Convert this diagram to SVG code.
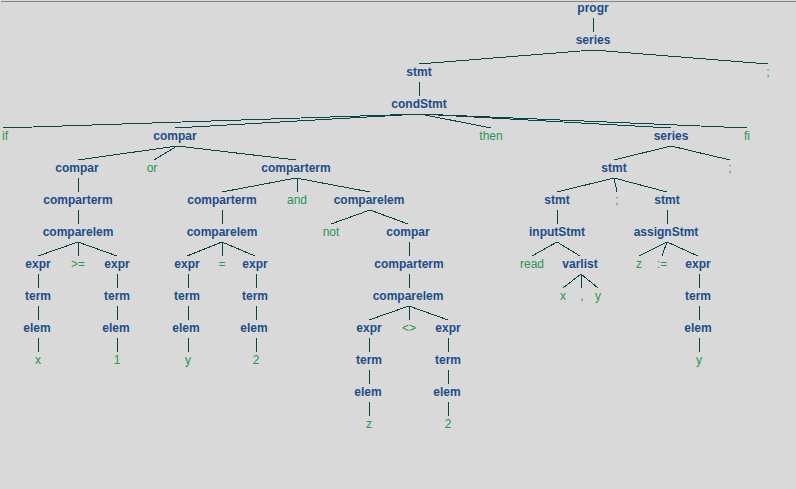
<svg xmlns="http://www.w3.org/2000/svg" width="796" height="489" viewBox="0 0 796 489">
<style>
text{font-family:"Liberation Sans",Arial,sans-serif;font-size:12px;text-anchor:middle}
.nt{font-weight:bold;fill:#1d4c88}
.t{fill:#2b9553}
#edges line{stroke:#0b4242;stroke-width:1}
</style>
<rect width="796" height="489" fill="#d9d9d9"/>
<line x1="1" y1="1.5" x2="796" y2="1.5" stroke="#858585" stroke-width="1"/>
<g id="edges" shape-rendering="crispEdges">
<line x1="593.5" y1="18" x2="593.5" y2="32"/>
<line x1="593" y1="50" x2="419" y2="64"/><line x1="593" y1="50" x2="768" y2="64"/>
<line x1="419.5" y1="82" x2="419.5" y2="96"/>
<line x1="420" y1="114" x2="3" y2="128"/><line x1="420" y1="114" x2="175" y2="128"/><line x1="420" y1="114" x2="491" y2="128"/><line x1="420" y1="114" x2="671" y2="128"/><line x1="420" y1="114" x2="747" y2="128"/>
<line x1="177" y1="146" x2="78" y2="160"/><line x1="177" y1="146" x2="154" y2="160"/><line x1="177" y1="146" x2="296" y2="160"/>
<line x1="671" y1="146" x2="614" y2="160"/><line x1="671" y1="146" x2="730" y2="160"/>
<line x1="78.5" y1="178" x2="78.5" y2="192"/>
<line x1="296" y1="178" x2="222" y2="192"/><line x1="297.5" y1="178" x2="297.5" y2="192"/><line x1="296" y1="178" x2="370" y2="192"/>
<line x1="614" y1="178" x2="557" y2="192"/><line x1="614" y1="178" x2="617" y2="192"/><line x1="614" y1="178" x2="667" y2="192"/>
<line x1="78.5" y1="210" x2="78.5" y2="224"/>
<line x1="222.5" y1="210" x2="222.5" y2="224"/>
<line x1="370" y1="210" x2="331" y2="224"/><line x1="370" y1="210" x2="408" y2="224"/>
<line x1="557.5" y1="210" x2="557.5" y2="224"/>
<line x1="667.5" y1="210" x2="667.5" y2="224"/>
<line x1="78" y1="242" x2="38" y2="256"/><line x1="78.5" y1="242" x2="78.5" y2="256"/><line x1="78" y1="242" x2="117" y2="256"/>
<line x1="222" y1="242" x2="187" y2="256"/><line x1="222.5" y1="242" x2="222.5" y2="256"/><line x1="222" y1="242" x2="255" y2="256"/>
<line x1="409.5" y1="242" x2="409.5" y2="256"/>
<line x1="557" y1="242" x2="532" y2="256"/><line x1="557" y1="242" x2="580" y2="256"/>
<line x1="667" y1="242" x2="639" y2="256"/><line x1="667" y1="242" x2="662" y2="256"/><line x1="667" y1="242" x2="698" y2="256"/>
<line x1="38.5" y1="274" x2="38.5" y2="288"/><line x1="117.5" y1="274" x2="117.5" y2="288"/><line x1="188.5" y1="274" x2="188.5" y2="288"/><line x1="256.5" y1="274" x2="256.5" y2="288"/>
<line x1="409.5" y1="274" x2="409.5" y2="288"/>
<line x1="581" y1="274" x2="563" y2="288"/><line x1="581.5" y1="274" x2="581.5" y2="288"/><line x1="581" y1="274" x2="598" y2="288"/>
<line x1="699.5" y1="274" x2="699.5" y2="288"/>
<line x1="38.5" y1="306" x2="38.5" y2="320"/><line x1="117.5" y1="306" x2="117.5" y2="320"/><line x1="188.5" y1="306" x2="188.5" y2="320"/><line x1="256.5" y1="306" x2="256.5" y2="320"/>
<line x1="409" y1="306" x2="369" y2="320"/><line x1="409.5" y1="306" x2="409.5" y2="320"/><line x1="409" y1="306" x2="448" y2="320"/>
<line x1="699.5" y1="306" x2="699.5" y2="320"/>
<line x1="38.5" y1="338" x2="38.5" y2="352"/><line x1="117.5" y1="338" x2="117.5" y2="352"/><line x1="188.5" y1="338" x2="188.5" y2="352"/><line x1="256.5" y1="338" x2="256.5" y2="352"/>
<line x1="369.5" y1="338" x2="369.5" y2="352"/><line x1="448.5" y1="338" x2="448.5" y2="352"/>
<line x1="699.5" y1="338" x2="699.5" y2="352"/>
<line x1="369.5" y1="370" x2="369.5" y2="384"/><line x1="448.5" y1="370" x2="448.5" y2="384"/>
<line x1="369.5" y1="402" x2="369.5" y2="416"/><line x1="448.5" y1="402" x2="448.5" y2="416"/>
</g>
<g id="n0"><text class="nt" x="593" y="12">progr</text></g>
<g id="n1"><text class="nt" x="593" y="44">series</text></g>
<g id="n2"><text class="nt" x="419" y="76">stmt</text></g>
<g id="n3"><text class="t" x="768" y="76">;</text></g>
<g id="n4"><text class="nt" x="419" y="108">condStmt</text></g>
<g id="n5"><text class="t" x="5" y="140">if</text></g>
<g id="n6"><text class="nt" x="175" y="140">compar</text></g>
<g id="n7"><text class="t" x="491" y="140">then</text></g>
<g id="n8"><text class="nt" x="671" y="140">series</text></g>
<g id="n9"><text class="t" x="747" y="140">fi</text></g>
<g id="n10"><text class="nt" x="77" y="172">compar</text></g>
<g id="n11"><text class="t" x="152" y="172">or</text></g>
<g id="n12"><text class="nt" x="296" y="172">comparterm</text></g>
<g id="n13"><text class="nt" x="614" y="172">stmt</text></g>
<g id="n14"><text class="t" x="730" y="172">;</text></g>
<g id="n15"><text class="nt" x="78" y="204">comparterm</text></g>
<g id="n16"><text class="nt" x="222" y="204">comparterm</text></g>
<g id="n17"><text class="t" x="297" y="204">and</text></g>
<g id="n18"><text class="nt" x="369" y="204">comparelem</text></g>
<g id="n19"><text class="nt" x="557" y="204">stmt</text></g>
<g id="n20"><text class="t" x="617" y="204">;</text></g>
<g id="n21"><text class="nt" x="667" y="204">stmt</text></g>
<g id="n22"><text class="nt" x="78" y="236">comparelem</text></g>
<g id="n23"><text class="nt" x="222" y="236">comparelem</text></g>
<g id="n24"><text class="t" x="331" y="236">not</text></g>
<g id="n25"><text class="nt" x="408" y="236">compar</text></g>
<g id="n26"><text class="nt" x="557" y="236">inputStmt</text></g>
<g id="n27"><text class="nt" x="666" y="236">assignStmt</text></g>
<g id="n28"><text class="nt" x="38" y="268">expr</text></g>
<g id="n29"><text class="t" x="78" y="268">&gt;=</text></g>
<g id="n30"><text class="nt" x="117" y="268">expr</text></g>
<g id="n31"><text class="nt" x="187" y="268">expr</text></g>
<g id="n32"><text class="t" x="222" y="268">=</text></g>
<g id="n33"><text class="nt" x="255" y="268">expr</text></g>
<g id="n34"><text class="nt" x="409" y="268">comparterm</text></g>
<g id="n35"><text class="t" x="532" y="268">read</text></g>
<g id="n36"><text class="nt" x="580" y="268">varlist</text></g>
<g id="n37"><text class="t" x="639" y="268">z</text></g>
<g id="n38"><text class="t" x="662" y="268">:=</text></g>
<g id="n39"><text class="nt" x="698" y="268">expr</text></g>
<g id="n40"><text class="nt" x="38" y="300">term</text></g>
<g id="n41"><text class="nt" x="117" y="300">term</text></g>
<g id="n42"><text class="nt" x="187" y="300">term</text></g>
<g id="n43"><text class="nt" x="255" y="300">term</text></g>
<g id="n44"><text class="nt" x="408" y="300">comparelem</text></g>
<g id="n45"><text class="t" x="563" y="300">x</text></g>
<g id="n46"><text class="t" x="582" y="300">,</text></g>
<g id="n47"><text class="t" x="598" y="300">y</text></g>
<g id="n48"><text class="nt" x="698" y="300">term</text></g>
<g id="n49"><text class="nt" x="37" y="332">elem</text></g>
<g id="n50"><text class="nt" x="116" y="332">elem</text></g>
<g id="n51"><text class="nt" x="186" y="332">elem</text></g>
<g id="n52"><text class="nt" x="254" y="332">elem</text></g>
<g id="n53"><text class="nt" x="369" y="332">expr</text></g>
<g id="n54"><text class="t" x="409" y="332">&lt;&gt;</text></g>
<g id="n55"><text class="nt" x="448" y="332">expr</text></g>
<g id="n56"><text class="nt" x="698" y="332">elem</text></g>
<g id="n57"><text class="t" x="38" y="364">x</text></g>
<g id="n58"><text class="t" x="117" y="364">1</text></g>
<g id="n59"><text class="t" x="188" y="364">y</text></g>
<g id="n60"><text class="t" x="256" y="364">2</text></g>
<g id="n61"><text class="nt" x="369" y="364">term</text></g>
<g id="n62"><text class="nt" x="448" y="364">term</text></g>
<g id="n63"><text class="t" x="699" y="364">y</text></g>
<g id="n64"><text class="nt" x="368" y="396">elem</text></g>
<g id="n65"><text class="nt" x="447" y="396">elem</text></g>
<g id="n66"><text class="t" x="369" y="428">z</text></g>
<g id="n67"><text class="t" x="448" y="428">2</text></g>
</svg>
